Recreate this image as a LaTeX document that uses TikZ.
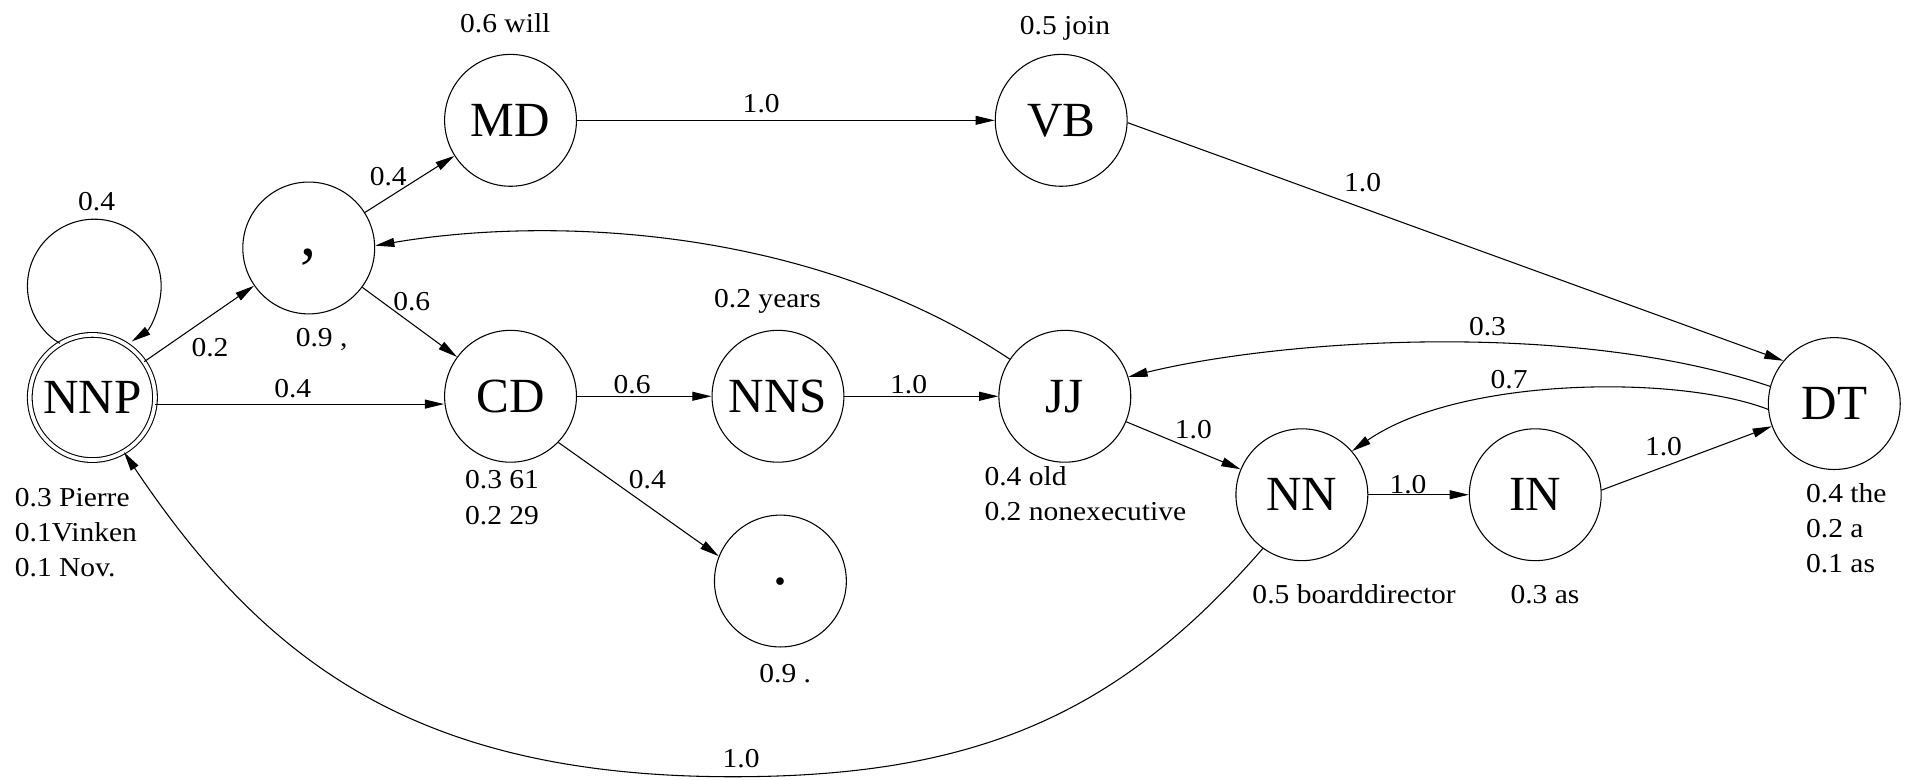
\documentclass[tikz,border=0pt]{standalone}
\usepackage{fontspec}
\setmainfont{Liberation Serif}
\newfontfamily\labfont{Liberation Serif}[FakeStretch=1.08]
\usetikzlibrary{arrows.meta}
\begin{document}
\begin{tikzpicture}[x=0.02cm,y=0.02cm,
  st/.style={circle,draw,line width=0.5pt,minimum size=2.17cm,inner sep=0pt,
    font=\fontsize{23}{23}\selectfont,text height=15.2pt,text depth=0pt},
  punct/.style={font=\fontsize{30}{30}\selectfont},
  lb/.style={inner sep=0pt,font=\labfont\fontsize{12.8}{16.5}\selectfont},
  ed/.style={line width=0.5pt,-{Triangle[length=9pt,width=4.2pt]}},
]
\useasboundingbox (0,0) rectangle (1568,-641);

% states
\node[st,double,double distance=0.06cm,minimum size=2.06cm] (NNP) at (76,-327) {NNP};
\node[st,punct,text height=6.8pt] (comma) at (254,-204) {,};
\node[st] (MD) at (420,-99) {MD};
\node[st] (VB) at (873,-99) {VB};
\node[st] (CD) at (420,-326) {CD};
\node[st] (NNS) at (640,-326) {NNS};
\node[st] (JJ) at (876,-326) {JJ};
\node[st,punct,text height=3pt] (dot) at (642,-478) {.};
\node[st] (NN) at (1071,-407) {NN};
\node[st] (IN) at (1263,-407) {IN};
\node[st] (DT) at (1509,-332) {DT};

% emission labels
\node[lb,anchor=west,align=left] (eNNP) at (11.9,-438) {0.3 Pierre\\0.1Vinken\\0.1 Nov.};
\node[lb] (ecomma) at (264.6,-279.7) {0.9 ,};
\node[lb] (eMD) at (415.7,-19.2) {0.6 will};
\node[lb] (eVB) at (876.1,-23.3) {0.5 join};
\node[lb,align=center] (eCD) at (413,-409.3) {0.3 61\\0.2 29};
\node[lb] (eNNS) at (631.4,-248.2) {0.2 years};
\node[lb,anchor=west,align=left] (eJJ) at (809.6,-405.9) {0.4 old\\0.2 nonexecutive};
\node[lb] (edot) at (646,-554) {0.9 .};
\node[lb] (eNN) at (1114,-489) {0.5 boarddirector};
\node[lb] (eIN) at (1271,-489) {0.3 as};
\node[lb,anchor=west,align=left] (eDT) at (1485.5,-434.5) {0.4 the\\0.2 a\\0.1 as};

% transitions
\draw[ed] (NNP.121) arc[start angle=239, end angle=-56, radius=55];
\draw[ed] (NNP) -- (comma);
\draw[ed] (NNP.-6) -- (NNP.-6 -| CD.west);
\draw[ed] (comma) -- (MD);
\draw[ed] (comma) -- (CD);
\draw[ed] (MD) -- (VB);
\draw[ed] (VB.-2) -- (DT.140);
\draw[ed] (CD) -- (NNS);
\draw[ed] (NNS) -- (JJ);
\draw[ed] (CD.-44) -- (dot.158);
\draw[ed] (JJ) -- (NN);
\draw[ed] (NN) -- (IN);
\draw[ed] (IN.4) -- (DT.200);
\draw[ed] (JJ.146) .. controls (665,-185) and (450,-178) .. (comma.2);
\draw[ed] (DT.165) .. controls (1290,-262) and (1050,-280) .. (JJ.17);
\draw[ed] (DT.185) .. controls (1380,-308) and (1200,-310) .. (NN.41);
\coordinate (low) at (603,-639);
\draw[ed] (NN.234) .. controls (920,-588) and (803,-639) .. (low)
  .. controls (343,-639) and (218,-545) .. (NNP.300);

% transition probabilities
\node[lb] (tloop) at (79.5,-166) {0.4};
\node[lb] (tNNPc) at (172.8,-285.7) {0.2};
\node[lb] (tNNPCD) at (240.8,-319.5) {0.4};
\node[lb] (tcMD) at (319.4,-145.3) {0.4};
\node[lb] (tcCD) at (338.7,-248.2) {0.6};
\node[lb] (tMDVB) at (626.2,-85) {1.0};
\node[lb] (tVBDT) at (1121,-150) {1.0};
\node[lb] (tCDNNS) at (520,-316.7) {0.6};
\node[lb] (tNNSJJ) at (747.5,-316.7) {1.0};
\node[lb] (tCDdot) at (532.6,-394.9) {0.4};
\node[lb] (tJJNN) at (981.7,-353.7) {1.0};
\node[lb] (tDTJJ) at (1223.7,-268.7) {0.3};
\node[lb] (tDTNN) at (1241.5,-312.6) {0.7};
\node[lb] (tNNIN) at (1158.3,-399) {1.0};
\node[lb] (tINDT) at (1368.5,-367.4) {1.0};
\node[lb] (tNNNNP) at (609.7,-623.8) {1.0};
\end{tikzpicture}
\end{document}
